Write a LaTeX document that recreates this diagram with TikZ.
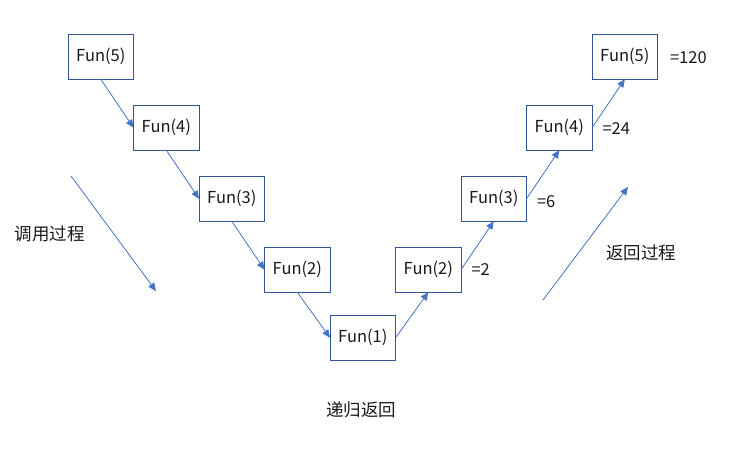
\documentclass[tikz,border=0pt]{standalone}
\usepackage{fontspec}
\setmainfont{Noto Sans CJK SC}
\usetikzlibrary{positioning,arrows.meta}
\definecolor{boxblue}{HTML}{2F5597}
\definecolor{arrowblue}{HTML}{4472C4}
\begin{document}
\begin{tikzpicture}[x=1pt,y=-1pt,
    funbox/.style={draw=boxblue, line width=1pt, minimum width=65.5pt, minimum height=45pt, inner sep=0pt, outer sep=0pt},
    callarrow/.style={arrowblue, line width=0.8pt, -{Triangle[length=8pt,width=7pt]}},
    every node/.style={font=\fontsize{16.5}{19}\selectfont, text=black!90},
    steplabel/.style={font=\fontsize{17.5}{20}\selectfont}]
            \useasboundingbox (0,0) rectangle (742,448);
            % Nodes
            \node[funbox] (call5) at (100.8,56.7) {Fun(5)};
            \node[funbox, below right=26pt and 0pt of call5] (call4) {Fun(4)};
            \node[funbox, below right=26pt and 0pt of call4] (call3) {Fun(3)};
            \node[funbox, below right=26pt and 0pt of call3] (call2) {Fun(2)};
            \node[funbox, below right=23pt and 0pt of call2] (call1) {Fun(1)};
            \node[funbox, above right=23pt and 0pt of call1] (ret2) {Fun(2)};
            \node[funbox, above right=26pt and 0pt of ret2] (ret3) {Fun(3)};
            \node[funbox, above right=26pt and 0pt of ret3] (ret4) {Fun(4)};
            \node[funbox, above right=26pt and 0pt of ret4] (ret5) {Fun(5)};

            \node[right=7pt of ret2] (val2) {=2};
            \node[right=7pt of ret3, yshift=-3pt] (val6) {=6};
            \node[right=7pt of ret4, yshift=-1pt] (val24) {=24};
            \node[right=9pt of ret5, yshift=-1pt] (val120) {=120};

            \node[steplabel] (calllabel) at (50,234) {调用过程};
            \node[steplabel] (retlabel) at (641,253) {返回过程};
            \node[steplabel] (title) at (361,410) {递归返回};

            \coordinate (callstart) at (71,176);
            \coordinate (callend) at (156,291);
            \coordinate (retstart) at (543,300);
            \coordinate (retend) at (628,187);

            % Arrows
            \draw[callarrow] (call5.south) -- (call4.west);
            \draw[callarrow] (call4.south) -- (call3.west);
            \draw[callarrow] (call3.south) -- (call2.west);
            \draw[callarrow] (call2.south) -- (call1.west);
            \draw[callarrow] (call1.east) -- (ret2.south);
            \draw[callarrow] (ret2.east) -- (ret3.south);
            \draw[callarrow] (ret3.east) -- (ret4.south);
            \draw[callarrow] (ret4.east) -- (ret5.south);
            \draw[callarrow] (callstart) -- (callend);
            \draw[callarrow] (retstart) -- (retend);
        \end{tikzpicture}
\end{document}
